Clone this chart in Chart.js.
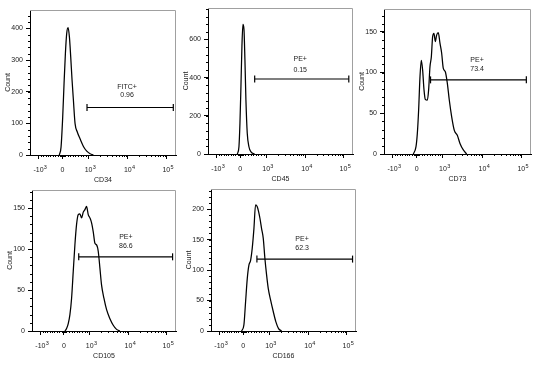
<!DOCTYPE html>
<html>
<head>
<meta charset="utf-8">
<script src="https://cdn.jsdelivr.net/npm/chart.js@4.4.0/dist/chart.umd.min.js"></script>
<style>
  html, body { margin: 0; padding: 0; background: #fff; }
  body { width: 550px; height: 375px; position: relative; overflow: hidden; }
  canvas { position: absolute; }
</style>
</head>
<body>
<canvas id="cd34"></canvas>
<canvas id="cd45"></canvas>
<canvas id="cd73"></canvas>
<canvas id="cd105"></canvas>
<canvas id="cd166"></canvas>
<script>
// ---- axis (biexponential display units, one decade = 1) ----
const xTickPos = [-0.62, 0, 0.68, 1.7, 2.7];
const xTickBase = ['-10', '0', '10', '10', '10'];
const xTickExp = ['3', '', '3', '4', '5'];

// ---- histograms ----
const cd34X = [-0.08, -0.034, 0.009, 0.044, 0.079, 0.113, 0.148, 0.183, 0.217, 0.252, 0.287, 0.33, 0.39, 0.459, 0.547, 0.633, 0.72, 0.806];
const cd34Count = [0, 25, 120, 226, 321, 384, 402, 373, 310, 236, 173, 99, 72, 51, 27, 12, 4, 0];

const cd45X = [-0.074, -0.031, -0.005, 0.021, 0.047, 0.073, 0.1, 0.125, 0.151, 0.186, 0.23, 0.29, 0.377];
const cd45Count = [0, 38, 161, 354, 565, 679, 653, 495, 284, 109, 38, 10, 0];

const cd73X = [-0.084, -0.015, 0.019, 0.053, 0.088, 0.122, 0.156, 0.191, 0.225, 0.277, 0.311, 0.345, 0.38, 0.414, 0.448, 0.483, 0.517, 0.56, 0.603, 0.646, 0.689, 0.741, 0.792, 0.844, 0.904, 0.973, 1.05, 1.119, 1.205, 1.291];
const cd73Count = [0, 9, 25, 54, 95, 115, 103, 79, 67, 66, 79, 107, 119, 144, 148, 138, 146, 149, 136, 124, 105, 101, 87, 66, 46, 29, 23, 13, 5, 0];

const cd105X = [0.026, 0.07, 0.114, 0.158, 0.202, 0.246, 0.289, 0.333, 0.377, 0.421, 0.465, 0.509, 0.553, 0.596, 0.64, 0.684, 0.728, 0.772, 0.816, 0.86, 0.904, 0.947, 0.991, 1.053, 1.123, 1.211, 1.298, 1.386, 1.474];
const cd105Count = [0, 3, 9, 20, 40, 73, 105, 130, 142, 143, 138, 145, 148, 152, 142, 138, 132, 121, 107, 105, 97, 77, 56, 40, 26, 15, 7, 2, 0];

const cd166X = [-0.04, 0.02, 0.064, 0.108, 0.151, 0.195, 0.238, 0.282, 0.325, 0.369, 0.404, 0.439, 0.482, 0.526, 0.569, 0.613, 0.656, 0.717, 0.787, 0.856, 0.926, 1.004];
const cd166Count = [0, 10, 48, 86, 108, 116, 136, 168, 207, 204, 196, 185, 168, 152, 119, 92, 70, 51, 32, 15, 4, 0];

// ---- gates: [start, end, level] and labels ----
const gateRanges = [[0.64, 2.88, 150], [0.38, 2.84, 393], [0.36, 2.83, 91], [0.39, 2.86, 90.5], [0.36, 2.86, 118]];
const gateNames = ['FITC+', 'PE+', 'PE+', 'PE+', 'PE+'];
const gateValues = ['0.96', '0.15', '73.4', '86.6', '62.3'];
const gateLabelX = [1.68, 1.57, 1.56, 1.63, 1.54];
const gateNameY = [214, 495, 115, 115, 151];
const gateValueY = [189, 442, 104, 104, 136];

// ---- y axes ----
const yMax = [458, 765, 178, 172, 233];
const yMajor = [[0, 100, 200, 300, 400], [0, 200, 400, 600], [0, 50, 100, 150], [0, 50, 100, 150], [0, 50, 100, 150, 200]];
const yMinorStep = [20, 40, 10, 10, 10];
const markerNames = ['CD34', 'CD45', 'CD73', 'CD105', 'CD166'];

const FAMILY = "'Liberation Sans', Arial, sans-serif";
const FONT = { family: FAMILY, size: 7 };

// plot-area boxes on the page: left, top, right, bottom
const boxes = [[30, 10, 176, 155], [208, 8, 353, 154], [384, 9, 531, 154], [32, 190, 176, 331], [211, 189, 356, 331]];

// minor ticks of the x axis (linear part around 0, log decades above 10^3)
function xMinorTicks() {
    const out = [];
    for (let k = 1; k < 10; k++) {
        out.push(-0.62 * k / 10, -0.062 * k / 10, 0.68 * k / 10, 0.068 * k / 10);
        if (k > 1) {
            out.push(0.68 + 1.02 * Math.log10(k), 1.7 + Math.log10(k));
        }
    }
    return out;
}

const flowDeco = {
    id: 'flowDeco',
    afterDraw(chart, args, o) {
        const { ctx, chartArea: a, scales: { x, y } } = chart;
        ctx.save();
        // grey frame on top / right
        ctx.strokeStyle = '#a0a0a0';
        ctx.lineWidth = 1;
        ctx.beginPath();
        ctx.moveTo(a.left, a.top + 0.5);
        ctx.lineTo(a.right - 0.5, a.top + 0.5);
        ctx.lineTo(a.right - 0.5, a.bottom);
        ctx.stroke();

        // minor ticks
        ctx.strokeStyle = '#000';
        ctx.beginPath();
        xMinorTicks().forEach(v => {
            if (v < x.min || v > x.max) return;
            const px = Math.round(x.getPixelForValue(v)) + 0.5;
            ctx.moveTo(px, a.bottom);
            ctx.lineTo(px, a.bottom + 2);
        });
        for (let v = 0; v <= y.max; v += o.minorStep) {
            const py = Math.round(y.getPixelForValue(v)) + 0.5;
            ctx.moveTo(a.left, py);
            ctx.lineTo(a.left - 2, py);
        }
        ctx.stroke();

        // x tick labels with superscript exponents
        ctx.fillStyle = '#222';
        ctx.textBaseline = 'alphabetic';
        x.ticks.forEach((t, k) => {
            const px = x.getPixelForValue(t.value);
            ctx.font = `7px ${FAMILY}`;
            ctx.textAlign = 'center';
            const base = xTickBase[k];
            const w = ctx.measureText(base).width;
            ctx.fillText(base, px, a.bottom + 17);
            if (xTickExp[k]) {
                ctx.font = `5.5px ${FAMILY}`;
                ctx.textAlign = 'left';
                ctx.fillText(xTickExp[k], px + w / 2 + 0.3, a.bottom + 13.5);
            }
        });

        // gate text
        ctx.font = `7px ${FAMILY}`;
        ctx.textAlign = 'center';
        ctx.textBaseline = 'middle';
        const lx = x.getPixelForValue(o.labelX);
        ctx.fillText(o.name, lx, y.getPixelForValue(o.nameY));
        ctx.fillText(o.value, lx, y.getPixelForValue(o.valueY));
        ctx.restore();
    }
};

function renderPanel(i, xs, counts) {
    const canvas = document.getElementById(markerNames[i].toLowerCase());
    const [l, t, r, b] = boxes[i];
    canvas.width = r - l + 36;
    canvas.height = b - t + 38;
    canvas.style.left = (l - 30) + 'px';
    canvas.style.top = (t - 6) + 'px';

    const g = gateRanges[i];

    new Chart(canvas.getContext('2d'), {
        type: 'line',
        data: {
            datasets: [
                {
                    data: xs.map((v, k) => ({ x: v, y: counts[k] })),
                    borderColor: '#000',
                    borderWidth: 1.25,
                    pointRadius: 0,
                    cubicInterpolationMode: 'monotone',
                    fill: false
                },
                {
                    data: [{ x: g[0], y: g[2] }, { x: g[1], y: g[2] }],
                    borderColor: '#000',
                    borderWidth: 1.2,
                    pointStyle: 'line',
                    rotation: 90,
                    pointRadius: 3.5,
                    pointBorderWidth: 1.2,
                    pointBorderColor: '#000'
                }
            ]
        },
        options: {
            responsive: false,
            animation: false,
            layout: { padding: { left: 0, top: 6, right: 6, bottom: 0 } },
            plugins: {
                legend: { display: false },
                tooltip: { enabled: false },
                flowDeco: {
                    minorStep: yMinorStep[i],
                    labelX: gateLabelX[i],
                    name: gateNames[i],
                    value: gateValues[i],
                    nameY: gateNameY[i],
                    valueY: gateValueY[i]
                }
            },
            scales: {
                x: {
                    type: 'linear',
                    min: -0.84,
                    max: 2.95,
                    afterBuildTicks: s => { s.ticks = xTickPos.map(v => ({ value: v })); },
                    afterFit: s => { s.height = 32; s.paddingLeft = 0; s.paddingRight = 0; },
                    border: { display: true, color: '#000', width: 1 },
                    grid: { drawOnChartArea: false, drawTicks: true, tickLength: 4, color: '#000' },
                    ticks: { display: false, autoSkip: false, maxRotation: 0 },
                    title: {
                        display: true,
                        text: markerNames[i],
                        color: '#222',
                        font: FONT,
                        padding: { top: 0, bottom: 3 }
                    }
                },
                y: {
                    min: 0,
                    max: yMax[i],
                    afterBuildTicks: s => { s.ticks = yMajor[i].map(v => ({ value: v })); },
                    afterFit: s => { s.width = 30; s.paddingTop = 0; s.paddingBottom = 0; },
                    border: { display: true, color: '#000', width: 1 },
                    grid: { drawOnChartArea: false, drawTicks: true, tickLength: 4, color: '#000' },
                    ticks: {
                        color: '#222',
                        font: FONT,
                        padding: 3,
                        callback: v => String(v)
                    },
                    title: {
                        display: true,
                        text: 'Count',
                        color: '#222',
                        font: FONT,
                        padding: { top: 4, bottom: 0 }
                    }
                }
            }
        },
        plugins: [flowDeco]
    });
}

renderPanel(0, cd34X, cd34Count);
renderPanel(1, cd45X, cd45Count);
renderPanel(2, cd73X, cd73Count);
renderPanel(3, cd105X, cd105Count);
renderPanel(4, cd166X, cd166Count);
</script>
</body>
</html>
